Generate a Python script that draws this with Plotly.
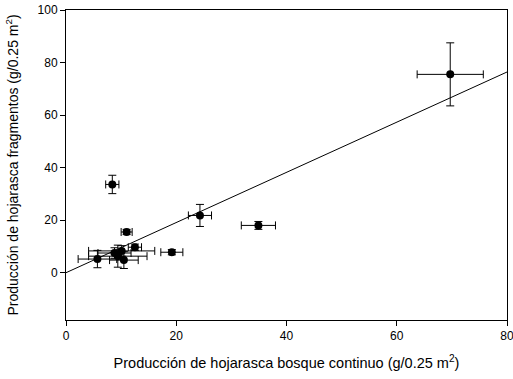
import plotly.graph_objects as go

x_vals = [5.7, 8.8, 9.4, 10.1, 10.5, 12.5, 11.0, 8.4, 19.2, 24.3, 34.9, 69.7]
y_vals = [5.2, 7.5, 6.3, 8.3, 4.8, 9.7, 15.5, 33.6, 7.8, 21.8, 18.0, 75.5]
x_err = [3.5, 3.0, 5.3, 6.0, 2.6, 1.2, 1.0, 1.2, 2.0, 2.1, 3.1, 6.0]
y_err = [3.3, 2.0, 4.2, 2.0, 3.2, 1.2, 1.0, 3.5, 1.0, 4.2, 1.5, 12.0]
fit_x = [0, 80]
fit_intercept = 0.0
fit_slope = 0.955
fit_y = [fit_intercept + fit_slope * v for v in fit_x]

fig = go.Figure()
fig.add_trace(go.Scatter(x=fit_x, y=fit_y, mode="lines",
                         line=dict(color="black", width=1), showlegend=False,
                         hoverinfo="skip"))
fig.add_trace(go.Scatter(
    x=x_vals, y=y_vals, mode="markers",
    marker=dict(color="black", size=8),
    error_x=dict(type="data", array=x_err, color="black", thickness=1, width=4),
    error_y=dict(type="data", array=y_err, color="black", thickness=1, width=4),
    showlegend=False))

font = dict(family="Liberation Sans, Arial, sans-serif", size=12, color="black")
fig.update_layout(
    width=513, height=379,
    margin=dict(l=66, r=6, t=10, b=59),
    paper_bgcolor="white", plot_bgcolor="white",
    font=font,
    xaxis=dict(range=[0, 80], tickvals=[0, 20, 40, 60, 80], ticks="outside",
               ticklen=5, tickcolor="black", showline=True, linecolor="black",
               linewidth=1, mirror=True, showgrid=False, zeroline=False,
               automargin=False, ticklabeloverflow="allow",
               title=dict(text="Producción de hojarasca bosque continuo (g/0.25 m<sup>2</sup>)",
                          font=dict(size=14.5))),
    yaxis=dict(range=[-18, 100], tickvals=[0, 20, 40, 60, 80, 100], ticks="outside",
               ticklen=5, tickcolor="black", showline=True, linecolor="black",
               linewidth=1, mirror=True, showgrid=False, zeroline=False,
               automargin=False,
               title=dict(text="Producción de hojarasca fragmentos (g/0.25 m<sup>2</sup>)",
                          font=dict(size=14))),
)
fig.write_html("out.html")
